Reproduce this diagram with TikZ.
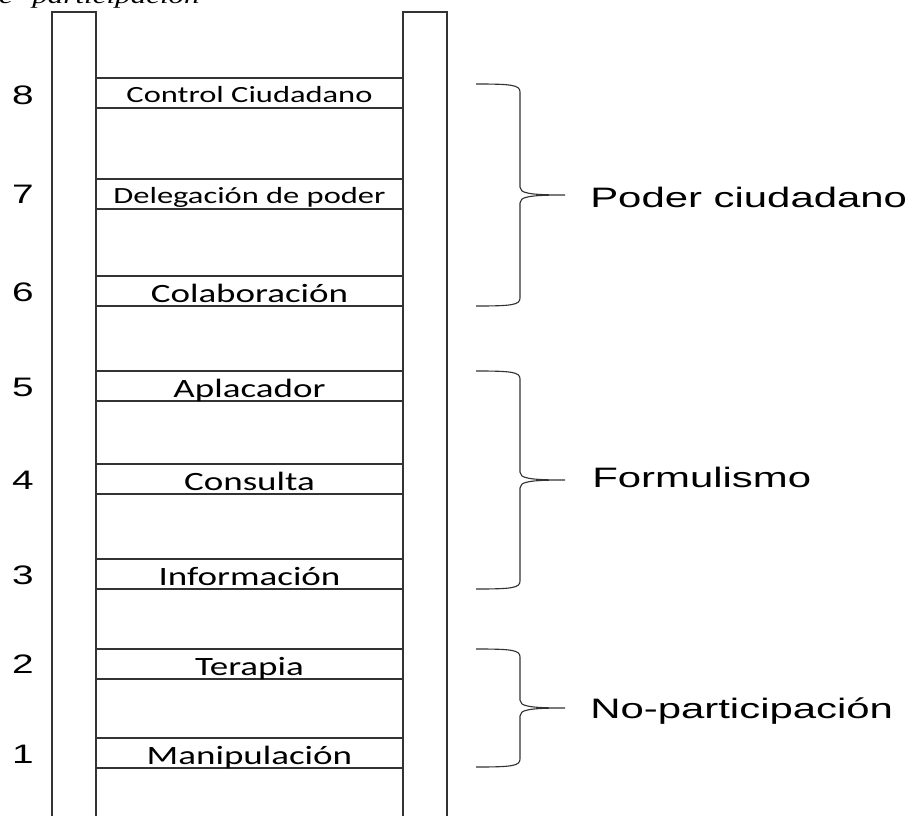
\documentclass[tikz,border=0pt]{standalone}
\usepackage{fontspec}
\usepackage{graphicx}
\setmainfont{Liberation Serif}
\newfontfamily\ladderfont{Carlito}
\newfontfamily\labelfont{Liberation Sans}
\newcommand{\wide}[2][1.45]{\scalebox{#1}[1]{#2}}

\tikzset{
  rail/.style={line width=0.8pt, draw=black!80},
  rung/.style={draw=black!80, line width=0.8pt, minimum width=7.675cm, inner sep=0pt,
    text height=0.65cm, text depth=0.1cm, font=\ladderfont\fontsize{18.8}{18.8}\selectfont},
  smallrung/.style={rung, text height=0.6cm, text depth=0.15cm,
    font=\ladderfont\fontsize{16.5}{16.5}\selectfont},
  num/.style={inner sep=0pt, anchor=base, font=\labelfont\fontsize{19}{19}\selectfont},
  grp/.style={inner sep=0pt, anchor=base west, font=\labelfont\fontsize{20}{20}\selectfont},
  brace/.style={line width=0.8pt, draw=black!80},
}

\begin{document}
\begin{tikzpicture}[x=0.025cm, y=-0.025cm]
    \path[use as bounding box] (0,0) rectangle (909,816);
    \clip (0,0) rectangle (909,816);
    % ---------------------------------------------
    \node[anchor=base east, inner sep=0pt, font=\itshape\fontsize{16}{16}\selectfont] (titulo) at (200,3) {\wide[1.38]{de\hspace{10pt}participación}};

    % rails of the ladder
    \draw[rail] (52,830) -- (52,12) -- (96,12) -- (96,830);
    \draw[rail] (403,830) -- (403,12) -- (447,12) -- (447,830);

    % rungs
    \node[smallrung] (r8) at (249.5,93) {\wide[1.4]{Control Ciudadano}};
    \node[smallrung] (r7) at (249.5,194) {\wide[1.4]{Delegación de poder}};
    \node[rung] (r6) at (249.5,291) {\wide[1.4]{Colaboración}};
    \node[rung] (r5) at (249.5,386) {\wide[1.4]{Aplacador}};
    \node[rung] (r4) at (249.5,479) {\wide[1.4]{Consulta}};
    \node[rung] (r3) at (249.5,574) {\wide[1.4]{Información}};
    \node[rung] (r2) at (249.5,664) {\wide[1.4]{Terapia}};
    \node[rung] (r1) at (249.5,753) {\wide[1.4]{Manipulación}};

    % step numbers
    \node[num] (n8) at (23,104) {\wide{8}};
    \node[num] (n7) at (23,203) {\wide{7}};
    \node[num] (n6) at (23,301) {\wide{6}};
    \node[num] (n5) at (23,396) {\wide{5}};
    \node[num] (n4) at (23,489) {\wide{4}};
    \node[num] (n3) at (23,584) {\wide{3}};
    \node[num] (n2) at (23,673) {\wide{2}};
    \node[num] (n1) at (23,763) {\wide{1}};

    % braces
    \draw[brace] (476,84) .. controls (512,84) and (520,85) .. (520,92)
      -- (520,187) .. controls (520,193) and (528,195) .. (565,195)
      .. controls (528,195) and (520,197) .. (520,203)
      -- (520,298) .. controls (520,305) and (512,306) .. (476,306);
    \draw[brace] (476,371) .. controls (512,371) and (520,372) .. (520,379)
      -- (520,472) .. controls (520,478) and (528,480) .. (565,480)
      .. controls (528,480) and (520,482) .. (520,488)
      -- (520,581) .. controls (520,588) and (512,589) .. (476,589);
    \draw[brace] (476,649) .. controls (512,649) and (520,650) .. (520,657)
      -- (520,700) .. controls (520,706) and (528,708) .. (565,708)
      .. controls (528,708) and (520,710) .. (520,716)
      -- (520,759) .. controls (520,766) and (512,767) .. (476,767);

    % group labels
    \node[grp] (g3) at (590,207) {\wide[1.49]{Poder ciudadano}};
    \node[grp] (g2) at (592,487) {\wide[1.49]{Formulismo}};
    \node[grp] (g1) at (590,718) {\wide[1.49]{No-participación}};

  \end{tikzpicture}
\end{document}
